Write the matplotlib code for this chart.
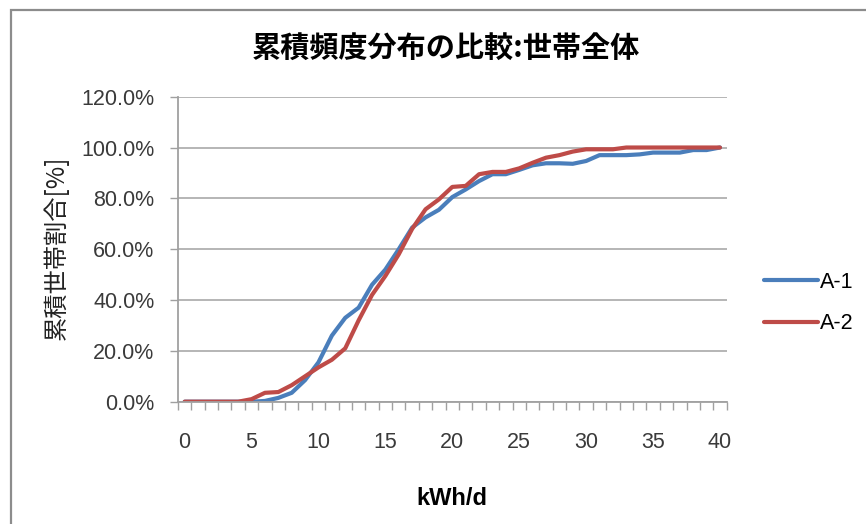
import matplotlib.pyplot as plt
import matplotlib.patches as mpatches
from matplotlib.ticker import FixedLocator, PercentFormatter

plt.rcParams['font.family'] = ['Liberation Sans', 'Noto Sans CJK JP', 'DejaVu Sans']

# cumulative share of households by daily consumption (kWh/d)
kwh = list(range(0, 41))
a1 = [0, 0, 0, 0, 0, 0, 0.3, 1.5, 3.5, 8.5, 15.5, 26, 33, 37, 46, 52, 60,
      68.5, 72.5, 75.5, 80.5, 83.5, 86.8, 89.5, 89.5, 91.2, 93, 93.8, 93.8,
      93.6, 94.7, 97, 97, 97, 97.3, 98, 98, 98, 99, 99, 100]
a2 = [0, 0, 0, 0, 0, 1, 3.5, 3.8, 6.5, 10, 13.5, 16.5, 21, 32, 42, 49.5, 58,
      68, 75.7, 79.6, 84.5, 84.9, 89.5, 90.4, 90.4, 91.8, 94, 96, 97, 98.4,
      99.3, 99.3, 99.3, 100, 100, 100, 100, 100, 100, 100, 100]
series_names = ['A-1', 'A-2']
title = '累積頻度分布の比較:世帯全体'
xlabel = 'kWh/d'
ylabel = '累積世帯割合[%]'

fig = plt.figure(figsize=(8.66, 5.24), dpi=100)
ax = fig.add_axes([0.2055, 0.2334, 0.6336, 0.5821])

ax.plot(kwh, a1, color='#4a7ebb', lw=3, label=series_names[0], solid_capstyle='round')
ax.plot(kwh, a2, color='#be4b48', lw=3, label=series_names[1], solid_capstyle='round')

ax.set_xlim(-0.5, 40.5)
ax.set_ylim(0, 120)
ax.yaxis.set_major_locator(FixedLocator([0, 20, 40, 60, 80, 100, 120]))
ax.yaxis.set_major_formatter(PercentFormatter(decimals=1))
ax.xaxis.set_major_locator(FixedLocator(list(range(0, 41, 5))))
ax.xaxis.set_minor_locator(FixedLocator([k - 0.5 for k in range(0, 42)]))

ax.grid(axis='y', color='#b0b0b0', lw=1.3)
ax.set_axisbelow(True)
for s in ['top', 'right']:
    ax.spines[s].set_visible(False)
for s in ['left', 'bottom']:
    ax.spines[s].set_color('#a0a0a0')
    ax.spines[s].set_linewidth(1.3)

ax.tick_params(axis='x', which='major', length=0, pad=22, labelsize=15.5, labelcolor='#3a3a3a')
ax.tick_params(axis='x', which='minor', length=6, width=1, color='#a0a0a0', direction='out')
ax.tick_params(axis='y', length=6, width=1, color='#a0a0a0', pad=11, labelsize=15.5, labelcolor='#3a3a3a')

ax.set_xlabel(xlabel, fontsize=17, fontweight='bold', labelpad=24)
fig.text(57 / 866, 1 - 248 / 524, ylabel, rotation=90, ha='center', va='center',
         fontsize=17.5, color='#222222', family=['Noto Sans CJK JP', 'DejaVu Sans'])
fig.text(446 / 866, 1 - 48 / 524, title, ha='center', va='center', fontsize=21,
         fontweight='bold', family=['Noto Sans CJK JP', 'DejaVu Sans'])

fig.legend(loc='center left', bbox_to_anchor=(745 / 866, 1 - 303 / 524), frameon=False,
           fontsize=15.5, handlelength=2.5, handletextpad=0.1, labelspacing=0.95)

# outer chart frame
fig.patches.append(mpatches.Rectangle((11 / 866, -0.1), 1.2, 1 - 10 / 524 + 0.1,
                                      transform=fig.transFigure, fill=False,
                                      edgecolor='#8c8c8c', lw=1.6))

fig.savefig('out.png', dpi=100)
